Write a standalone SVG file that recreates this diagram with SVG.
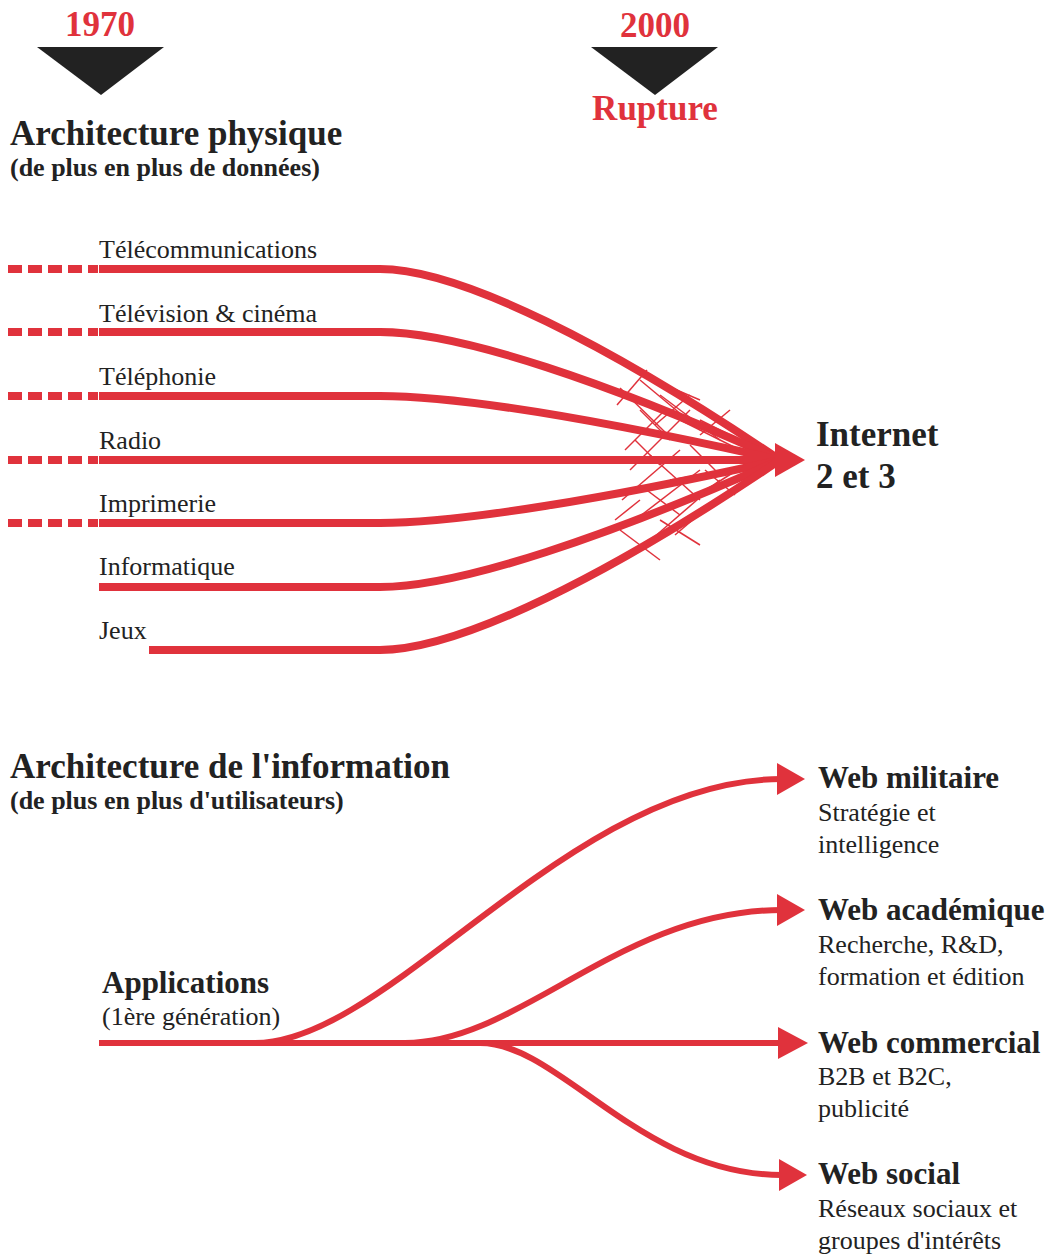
<svg xmlns="http://www.w3.org/2000/svg" width="1046" height="1256" viewBox="0 0 1046 1256">
<defs>
<style>
.red{fill:#e0323c}
.dark{fill:#222}
.t{font-family:"Liberation Serif","Times New Roman",serif;fill:#222}
.b{font-weight:bold}
.yr{font-family:"Liberation Serif","Times New Roman",serif;font-weight:bold;fill:#e0323c;font-size:35px;text-anchor:middle}
.lab{font-size:26px}
.big{font-size:35px}
.sub{font-size:26px}
.hd{font-size:31px}
.ln{fill:none;stroke:#e0323c;stroke-width:8}
.dash{fill:none;stroke:#e0323c;stroke-width:8;stroke-dasharray:14 6}
.ln2{fill:none;stroke:#e0323c;stroke-width:6}
.hatch{fill:none;stroke:#e0323c;stroke-width:1.5}
</style>
</defs>
<rect width="1046" height="1256" fill="#fff"/>

<g id="timeline">
<text class="yr" x="100" y="36">1970</text>
<polygon class="dark" points="37,47 164,47 101,95"/>
<text class="yr" x="655" y="37">2000</text>
<polygon class="dark" points="591,47 718,47 655,95"/>
<text class="yr" x="655" y="120">Rupture</text>
</g>

<g id="title-physique">
<text class="t b big" x="10" y="145">Architecture physique</text>
<text class="t b sub" x="10" y="176">(de plus en plus de données)</text>
</g>

<g id="connectors">
<path class="dash" d="M8,269 H98"/>
<path class="dash" d="M8,332 H98"/>
<path class="dash" d="M8,396 H98"/>
<path class="dash" d="M8,460 H98"/>
<path class="dash" d="M8,523 H98"/>
<path class="ln" d="M99,269 H380 C460,269 610,345 780,460"/>
<path class="ln" d="M99,332 H380 C460,332 610,383 780,460"/>
<path class="ln" d="M99,396 H380 C460,396 610,422 780,460"/>
<path class="ln" d="M99,460 H780"/>
<path class="ln" d="M99,523 H380 C460,523 610,498 780,460"/>
<path class="ln" d="M99,587 H380 C460,587 610,536 780,460"/>
<path class="ln" d="M149,650 H380 C460,650 610,575 780,460"/>
<g class="hatch">
<path d="M617,405 L647,370"/><path d="M620,388 L670,437"/>
<path d="M640,380 L700,430"/><path d="M625,450 L665,410"/>
<path d="M630,470 L690,410"/><path d="M650,455 L700,500"/>
<path d="M622,500 L680,450"/><path d="M635,520 L700,470"/>
<path d="M620,530 L660,560"/><path d="M645,545 L720,480"/>
<path d="M660,395 L720,440"/><path d="M680,420 L740,450"/>
<path d="M670,480 L730,470"/><path d="M690,500 L745,465"/>
<path d="M655,425 L690,395"/><path d="M700,435 L730,410"/>
<path d="M660,520 L700,545"/><path d="M640,485 L680,515"/>
<path d="M665,385 L700,400"/><path d="M700,420 L740,440"/>
<path d="M635,440 L660,465"/><path d="M615,520 L640,500"/>
<path d="M705,470 L735,495"/><path d="M675,535 L710,505"/>
<path d="M640,410 L670,440"/><path d="M690,445 L720,475"/>
</g>
<polygon class="red" points="775,443 805,460 775,477"/>

<path class="ln2" d="M99,1043 H780"/>
<path class="ln2" d="M255,1043 C390,1043 570,779 782,779"/>
<path class="ln2" d="M405,1043 C520,1043 620,910 782,910"/>
<path class="ln2" d="M480,1043 C560,1043 640,1175 782,1175"/>
<polygon class="red" points="777,763 805,779 777,795"/>
<polygon class="red" points="777,894 805,910 777,926"/>
<polygon class="red" points="778,1027 808,1043 778,1059"/>
<polygon class="red" points="779,1159 807,1175 779,1191"/>
</g>

<g id="node-telecom"><text class="t lab" x="99" y="258">Télécommunications</text></g>
<g id="node-television"><text class="t lab" x="99" y="322">Télévision &amp; cinéma</text></g>
<g id="node-telephonie"><text class="t lab" x="99" y="385">Téléphonie</text></g>
<g id="node-radio"><text class="t lab" x="99" y="449">Radio</text></g>
<g id="node-imprimerie"><text class="t lab" x="99" y="512">Imprimerie</text></g>
<g id="node-informatique"><text class="t lab" x="99" y="575">Informatique</text></g>
<g id="node-jeux"><text class="t lab" x="99" y="639">Jeux</text></g>

<g id="node-internet">
<text class="t b big" x="816" y="446">Internet</text>
<text class="t b big" x="816" y="488">2 et 3</text>
</g>

<g id="title-information">
<text class="t b big" x="10" y="778">Architecture de l'information</text>
<text class="t b sub" x="10" y="809">(de plus en plus d'utilisateurs)</text>
</g>

<g id="node-applications">
<text class="t b hd" x="102" y="993">Applications</text>
<text class="t lab" x="102" y="1025">(1ère génération)</text>
</g>

<g id="node-militaire">
<text class="t b hd" x="818" y="788">Web militaire</text>
<text class="t lab" x="818" y="821">Stratégie et</text>
<text class="t lab" x="818" y="853">intelligence</text>
</g>
<g id="node-academique">
<text class="t b hd" x="818" y="920">Web académique</text>
<text class="t lab" x="818" y="953">Recherche, R&amp;D,</text>
<text class="t lab" x="818" y="985">formation et édition</text>
</g>
<g id="node-commercial">
<text class="t b hd" x="818" y="1053">Web commercial</text>
<text class="t lab" x="818" y="1085">B2B et B2C,</text>
<text class="t lab" x="818" y="1117">publicité</text>
</g>
<g id="node-social">
<text class="t b hd" x="818" y="1184">Web social</text>
<text class="t lab" x="818" y="1217">Réseaux sociaux et</text>
<text class="t lab" x="818" y="1249">groupes d'intérêts</text>
</g>
</svg>
